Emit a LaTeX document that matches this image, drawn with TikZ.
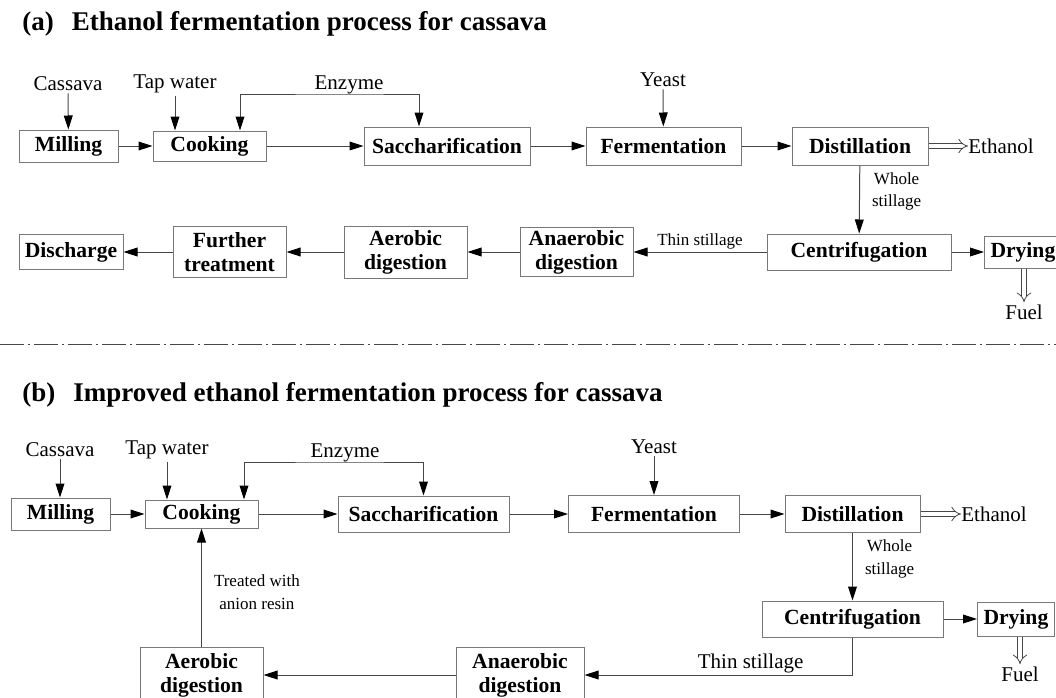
\documentclass[tikz,border=0pt]{standalone}
\usepackage{fontspec}
\setmainfont{Liberation Serif}
\usetikzlibrary{arrows.meta}
\definecolor{boxgray}{RGB}{120,120,120}
\definecolor{linegray}{RGB}{70,70,70}
\newcommand{\boxfont}{\fontsize{10.8}{12}\selectfont\bfseries}
\newcommand{\lblfont}{\fontsize{10.5}{12}\selectfont}
\newcommand{\smallfont}{\fontsize{8.5}{11.3}\selectfont}
\newcommand{\titlefont}{\fontsize{13.5}{15}\selectfont\bfseries}

\begin{document}
\begin{tikzpicture}[x=0.5pt, y=-0.5pt,
    >={Triangle[length=7pt,width=4.4pt,color=black]},
    box/.style={draw=boxgray, line width=0.5pt, font=\boxfont,
                align=center, inner sep=0pt},
    lbl/.style={font=\lblfont, inner sep=1pt},
    small/.style={font=\smallfont, align=center, inner sep=1pt},
    flow/.style={->, draw=linegray, line width=0.5pt},
    dbl/.style={draw=linegray, line width=0.4pt, double distance=2.2pt, -{Implies}},
    title/.style={font=\titlefont, anchor=west, inner sep=0pt}]
  \useasboundingbox (0,0) rectangle (1056,697);

  % (a) Nodes
  \node[title] (ttlA) at (22,24) {(a)\hspace{9pt}Ethanol fermentation process for cassava};
  \node[box, minimum width=49.5pt, minimum height=16pt] (millA) at (68.5,146) {Milling};
  \node[box, minimum width=56.5pt, minimum height=15pt] (cookA) at (209.5,146) {Cooking};
  \node[box, minimum width=83pt, minimum height=19pt] (sacA) at (447,146) {Saccharification};
  \node[box, minimum width=77.5pt, minimum height=19pt] (ferA) at (663.5,146) {Fermentation};
  \node[box, minimum width=68pt, minimum height=19pt] (disA) at (860,146) {Distillation};
  \node[box, minimum width=92pt, minimum height=18pt] (cenA) at (859,252) {Centrifugation};
  \node[box, anchor=west, inner xsep=3pt, minimum height=16pt] (dryA) at (984,252) {Drying};
  \node[box, minimum width=56.5pt, minimum height=24.5pt] (anaA) at (576.5,252) {Anaerobic\\digestion};
  \node[box, minimum width=61.5pt, minimum height=26pt] (aerA) at (405.5,252) {Aerobic\\digestion};
  \node[box, minimum width=56.5pt, minimum height=25.5pt] (furA) at (229.5,252) {Further\\treatment};
  \node[box, minimum width=52pt, minimum height=17.5pt] (dschA) at (71,252) {Discharge};

  \node[lbl] (cassA) at (68,84) {Cassava};
  \node[lbl] (tapA) at (175,84) {Tap water};
  \node[lbl, anchor=south, inner sep=0pt] (enzA) at (349,94) {Enzyme};
  \node[lbl] (yeastA) at (663,80) {Yeast};
  \node[lbl, anchor=west, inner sep=0pt] (ethA) at (968,146) {Ethanol};
  \node[lbl] (fuelA) at (1024,312) {Fuel};

  % (a) Arrows
  \draw[flow] (cassA) -- (millA);
  \draw[flow] (tapA) -- (tapA |- cookA.north);
  \draw[flow, <->] ([xshift=15.25pt]cookA.north) |- (enzA.south) -| ([xshift=-14pt]sacA.north);
  \draw[flow] (yeastA) -- (ferA);
  \draw[flow] (millA) -- (cookA);
  \draw[flow] (cookA) -- (sacA);
  \draw[flow] (sacA) -- (ferA);
  \draw[flow] (ferA) -- (disA);
  \draw[dbl] (disA) -- (ethA);
  \draw[flow] (disA) -- node[small, right=5pt, pos=0.38] (wholeA) {Whole\\stillage} (cenA);
  \draw[flow] (cenA) -- (dryA);
  \draw[dbl] (fuelA.north |- dryA.south) -- (fuelA);
  \draw[flow] (cenA) -- node[small, above] (thinA) {Thin stillage} (anaA);
  \draw[flow] (anaA) -- (aerA);
  \draw[flow] (aerA) -- (furA);
  \draw[flow] (furA) -- (dschA);

  % separator
  \draw[linegray, line width=0.5pt, dash pattern=on 12pt off 2pt on 1pt off 2pt] (0,344) -- (1056,344);

  % (b) Nodes
  \node[title] (ttlB) at (22,395) {(b)\hspace{9pt}Improved ethanol fermentation process for cassava};
  \node[box, minimum width=49.5pt, minimum height=16pt] (millB) at (60.5,514) {Milling};
  \node[box, minimum width=56.5pt, minimum height=14pt] (cookB) at (201.5,514) {Cooking};
  \node[box, minimum width=85.5pt, minimum height=18pt] (sacB) at (423.5,514) {Saccharification};
  \node[box, minimum width=85.5pt, minimum height=18.5pt] (ferB) at (654,514) {Fermentation};
  \node[box, minimum width=67.5pt, minimum height=18.5pt] (disB) at (852.5,514) {Distillation};
  \node[box, minimum width=90.5pt, minimum height=18pt] (cenB) at (852.5,619) {Centrifugation};
  \node[box, anchor=west, inner xsep=3pt, minimum height=17pt] (dryB) at (977,619) {Drying};
  \node[box, minimum width=64pt, minimum height=28pt] (anaB) at (520,675) {Anaerobic\\digestion};
  \node[box, minimum width=61.5pt, minimum height=28pt] (aerB) at (201.5,675) {Aerobic\\digestion};

  \node[lbl] (cassB) at (60,450) {Cassava};
  \node[lbl] (tapB) at (167,450) {Tap water};
  \node[lbl, anchor=south, inner sep=0pt] (enzB) at (345,462) {Enzyme};
  \node[lbl] (yeastB) at (654,447) {Yeast};
  \node[lbl, anchor=west, inner sep=0pt] (ethB) at (961,514) {Ethanol};
  \node[lbl] (fuelB) at (1020,674) {Fuel};

  % (b) Arrows
  \draw[flow] (cassB) -- (cassB |- millB.north);
  \draw[flow] (tapB) -- (tapB |- cookB.north);
  \draw[flow, <->] ([xshift=21.25pt]cookB.north) |- (enzB.south) -| (sacB.north);
  \draw[flow] (yeastB) -- (ferB);
  \draw[flow] (millB) -- (cookB);
  \draw[flow] (cookB) -- (sacB);
  \draw[flow] (sacB) -- (ferB);
  \draw[flow] (ferB) -- (disB);
  \draw[dbl] (disB) -- (ethB);
  \draw[flow] (disB) -- node[small, right=5pt, pos=0.38] (wholeB) {Whole\\stillage} (cenB);
  \draw[flow] (cenB) -- (dryB);
  \draw[dbl] (fuelB.north |- dryB.south) -- (fuelB);
  \draw[flow] (cenB.south) |- node[lbl, above, pos=0.69, inner sep=0.5pt] (thinB) {Thin stillage} (anaB);
  \draw[flow] (anaB) -- (aerB);
  \draw[flow] (aerB) -- node[small, right=5pt, pos=0.46] (treatB) {Treated with\\anion resin} (cookB);
\end{tikzpicture}
\end{document}
